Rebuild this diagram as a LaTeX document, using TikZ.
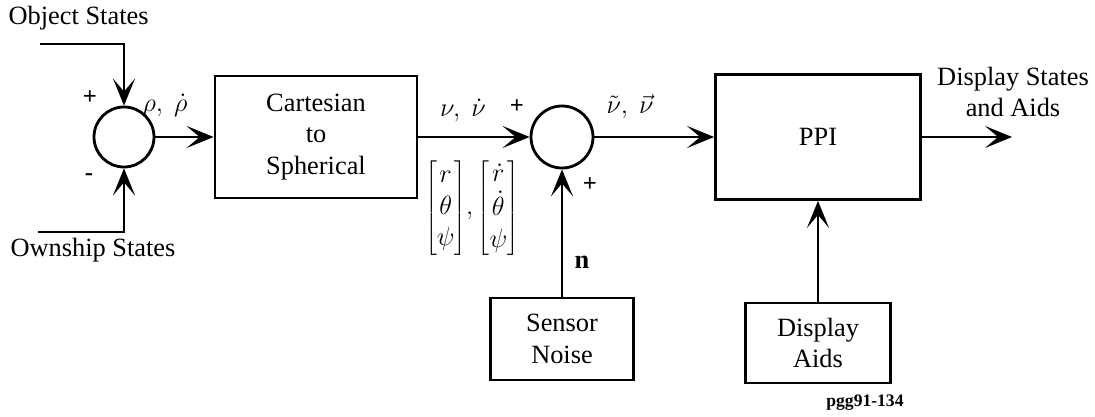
\RequirePackage{fix-cm}
\documentclass[tikz,border=0pt]{standalone}
\usepackage{fontspec}
\setmainfont{Liberation Serif}
\usetikzlibrary{arrows.meta, positioning}

\begin{document}
\begin{tikzpicture}[
    block/.style={rectangle, draw, line width=1.6pt, font=\fontsize{15}{18}\selectfont, align=center},
    summer/.style={circle, draw, line width=1.6pt, minimum size=1.2cm, inner sep=0pt},
    arrow/.style={-{Stealth[length=5.4mm, width=4.4mm, inset=2.6mm]}, line width=1.6pt},
    lbl/.style={font=\fontsize{15}{18}\selectfont, align=center},
    sign/.style={font=\fontsize{14}{16}\selectfont\bfseries}
]
\useasboundingbox (0,0) rectangle (21.9,8.34);

% Input states and first summer
\node[lbl, anchor=west] (objstates) at (0.05,7.98) {Object States};
\coordinate (objin) at (0.8,7.46);
\node[summer] (sum1) at (2.48,5.6) {};
\draw[arrow] (objin) -| (sum1.north);

\node[lbl] (ownstates) at (1.86,3.34) {Ownship States};
\coordinate (ownin) at (0.76,3.7);
\draw[arrow] (ownin) -| (sum1.south);

\node[sign] (plus1) at (1.8,6.38) {+};
\node[sign] (minus1) at (1.78,4.8) {-};

% Coordinate conversion
\node[block, minimum width=4.04cm, minimum height=2.44cm] (cart) at (6.32,5.6) {Cartesian\\to\\Spherical};
\draw[arrow] (sum1) -- (cart);
\node[lbl] (rholbl) at (3.3,6.24) {$\rho,\ \dot{\rho}$};

% Second summer with sensor noise
\node[summer, minimum size=1.24cm] (sum2) at (11.24,5.6) {};
\draw[arrow] (cart) -- (sum2);
\node[lbl] (nulbl) at (9.26,6.14) {$\nu,\ \dot{\nu}$};
\node[sign] (plus2) at (10.34,6.2) {+};
\node[lbl] (sphlbl) at (9.44,4.18) {$\left[\begin{array}{@{}c@{}} r\\ \theta\\ \psi \end{array}\right]\!,\left[\begin{array}{@{}c@{}} \dot{r}\\ \dot{\theta}\\ \psi \end{array}\right]$};

\node[block, minimum width=2.86cm, minimum height=1.64cm] (noise) at (11.24,1.56) {Sensor\\Noise};
\draw[arrow] (noise) -- (sum2);
\node[sign] (plus3) at (11.8,4.64) {+};
\node[lbl, font=\fontsize{15}{18}\selectfont\bfseries] (nlbl) at (11.64,3.1) {n};

% Display
\node[block, minimum width=4.1cm, minimum height=2.5cm] (ppi) at (16.36,5.6) {PPI};
\draw[arrow] (sum2) -- (ppi);
\node[lbl] (vlbl) at (12.6,6.2) {$\tilde{\nu},\ \vec{\nu}$};

\node[block, minimum width=2.9cm, minimum height=1.6cm] (aids) at (16.36,1.48) {Display\\Aids};
\draw[arrow] (aids) -- (ppi);

\coordinate (out) at (20.24,5.6);
\draw[arrow] (ppi) -- (out);
\node[lbl] (outlbl) at (20.26,6.5) {Display States\\and Aids};

\node[font=\fontsize{10}{12}\selectfont\bfseries] (tag) at (17.3,0.28) {pgg91-134};

\end{tikzpicture}
\end{document}
